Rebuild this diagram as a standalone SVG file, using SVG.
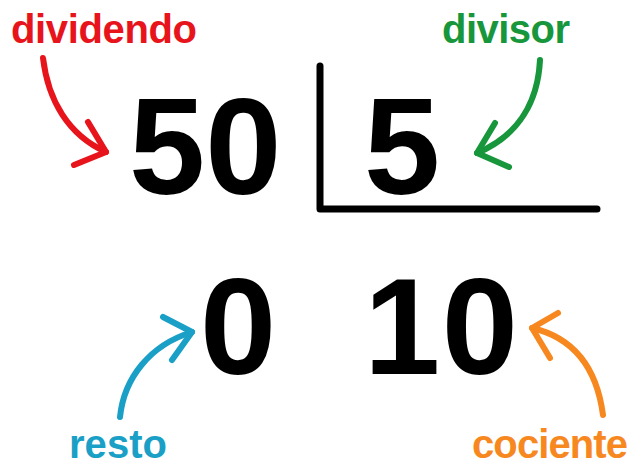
<svg xmlns="http://www.w3.org/2000/svg" width="631" height="466" viewBox="0 0 631 466">
  <style>
    .num { font-family: "Liberation Sans", Arial, sans-serif; font-weight: bold; font-size: 137px; fill: #000; }
    .lbl { font-family: "Liberation Sans", Arial, sans-serif; font-weight: bold; font-size: 40px; }
    .bracket { fill: none; stroke: #000; stroke-width: 7; stroke-linecap: round; stroke-linejoin: round; }
    .arrow { fill: none; stroke-width: 6; stroke-linecap: round; stroke-linejoin: round; }
  </style>
  <rect width="631" height="466" fill="#fff"/>

  <!-- division bracket -->
  <g id="bracket">
    <path class="bracket" d="M320,66 V209 H597"/>
  </g>

  <!-- numbers -->
  <g id="dividend"><text class="num" x="129" y="194">50</text></g>
  <g id="divisor-num"><text class="num" x="364" y="194">5</text></g>
  <g id="remainder"><text class="num" x="200" y="374">0</text></g>
  <g id="quotient"><text class="num" x="364" y="374" textLength="154">10</text></g>

  <!-- labels -->
  <g id="label-dividendo"><text class="lbl" x="11" y="43" fill="#e8141c" textLength="186">dividendo</text></g>
  <g id="label-divisor"><text class="lbl" x="442" y="43" fill="#17963c" textLength="128">divisor</text></g>
  <g id="label-resto"><text class="lbl" x="69" y="458" fill="#1a9fc6" textLength="98">resto</text></g>
  <g id="label-cociente"><text class="lbl" x="472" y="458" fill="#f7881f" textLength="156">cociente</text></g>

  <!-- pointer arrows -->
  <g id="connectors">
    <g stroke="#e8141c" class="arrow">
      <path d="M43,58 C48,100 68,135 106,152"/>
      <path d="M88,122 L106,152 L74,165"/>
    </g>
    <g stroke="#17963c" class="arrow">
      <path d="M540,60 C538,100 520,135 477,153"/>
      <path d="M495,123 L477,153 L509,167"/>
    </g>
    <g stroke="#1a9fc6" class="arrow">
      <path d="M120,417 C124,378 150,345 192,332"/>
      <path d="M163,317 L192,332 L172,360"/>
    </g>
    <g stroke="#f7881f" class="arrow">
      <path d="M603,415 C597,370 575,338 532,328"/>
      <path d="M558,313 L532,328 L550,358"/>
    </g>
  </g>
</svg>
